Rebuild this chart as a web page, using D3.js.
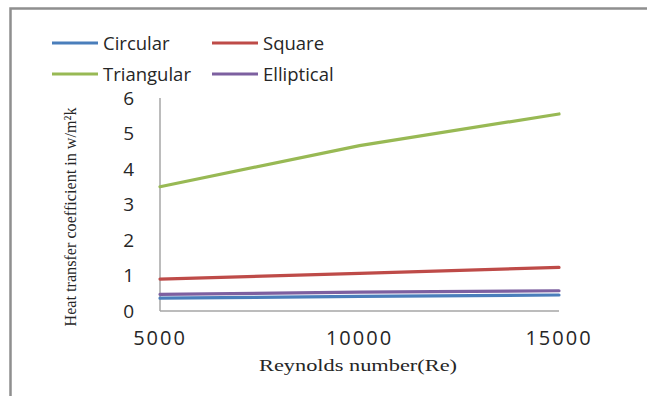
<!DOCTYPE html>
<html><head><meta charset="utf-8">
<script src="https://cdn.jsdelivr.net/npm/d3@7/dist/d3.min.js"></script>
<style>body{margin:0;background:#fff}svg{display:block}</style>
</head><body>
<script>
const reynolds = [5000, 10000, 15000];
const circular = [0.36, 0.41, 0.45];
const square = [0.90, 1.06, 1.23];
const triangular = [3.50, 4.66, 5.55];
const elliptical = [0.47, 0.53, 0.57];
const seriesNames = ["Circular", "Square", "Triangular", "Elliptical"];
const seriesColors = ["#4a7ebb", "#be4b48", "#98b954", "#7d60a0"];
const yTicks = [0, 1, 2, 3, 4, 5, 6];
const xTicks = [5000, 10000, 15000];
const series = [circular, square, triangular, elliptical];

const W = 647, H = 396;
const svg = d3.select("body").append("svg").attr("width", W).attr("height", H);
svg.append("rect").attr("x", 0).attr("y", 0).attr("width", W).attr("height", H).attr("fill", "#fff");
// frame
svg.append("path").attr("d", `M10.5,${H} L10.5,8.5 L${W},8.5`).attr("fill", "none")
  .attr("stroke", "#8f8f8f").attr("stroke-width", 2.5);

const x = d3.scaleLinear().domain([5000, 15000]).range([160, 559]);
const y = d3.scaleLinear().domain([0, 6]).range([311, 98]);

// axes lines
svg.append("line").attr("x1", x(5000)).attr("x2", x(5000)).attr("y1", y(6)).attr("y2", y(0))
  .attr("stroke", "#a6a6a6").attr("stroke-width", 1.5);
svg.append("line").attr("x1", x(5000)).attr("x2", x(15000)).attr("y1", y(0)).attr("y2", y(0))
  .attr("stroke", "#a6a6a6").attr("stroke-width", 1.5);

// y tick labels
svg.append("g").selectAll("text").data(yTicks).join("text")
  .attr("x", 134).attr("y", d => y(d)).attr("dy", "0.36em")
  .attr("text-anchor", "end").attr("font-family", "Open Sans").attr("font-size", 19)
  .attr("fill", "#262626").text(d => d);

// x tick labels
svg.append("g").selectAll("text").data(xTicks).join("text")
  .attr("x", d => x(d)).attr("y", 345)
  .attr("text-anchor", "middle").attr("font-family", "Open Sans").attr("font-size", 20)
  .attr("letter-spacing", 2)
  .attr("fill", "#262626").text(d => d);

// axis titles
svg.append("text").attr("transform", "translate(76,217) rotate(-90)")
  .attr("text-anchor", "middle").attr("font-family", "Liberation Serif").attr("font-size", 17)
  .attr("fill", "#262626").attr("textLength", 219).attr("lengthAdjust", "spacingAndGlyphs")
  .text("Heat transfer coefficient in w/m²k");
svg.append("text").attr("x", 358).attr("y", 371)
  .attr("text-anchor", "middle").attr("font-family", "Liberation Serif").attr("font-size", 17)
  .attr("fill", "#262626").attr("textLength", 198).attr("lengthAdjust", "spacingAndGlyphs")
  .text("Reynolds number(Re)");

// lines
const line = d3.line().x((d, i) => x(reynolds[i])).y(d => y(d));
svg.append("g").selectAll("path").data(series).join("path")
  .attr("d", d => line(d)).attr("fill", "none")
  .attr("stroke", (d, i) => seriesColors[i]).attr("stroke-width", 3.2).attr("stroke-linecap", "round");

// legend
const legPos = [[52, 43], [212, 43], [52, 74], [212, 74]];
const leg = svg.append("g").selectAll("g").data(seriesNames).join("g")
  .attr("transform", (d, i) => `translate(${legPos[i][0]},${legPos[i][1]})`);
leg.append("line").attr("x1", 0).attr("x2", 46).attr("y1", 0).attr("y2", 0)
  .attr("stroke", (d, i) => seriesColors[i]).attr("stroke-width", 3.2);
leg.append("text").attr("x", 51).attr("y", 0).attr("dy", "0.36em")
  .attr("font-family", "Open Sans").attr("font-size", 18.5).attr("fill", "#262626").text(d => d);
</script>
</body></html>
